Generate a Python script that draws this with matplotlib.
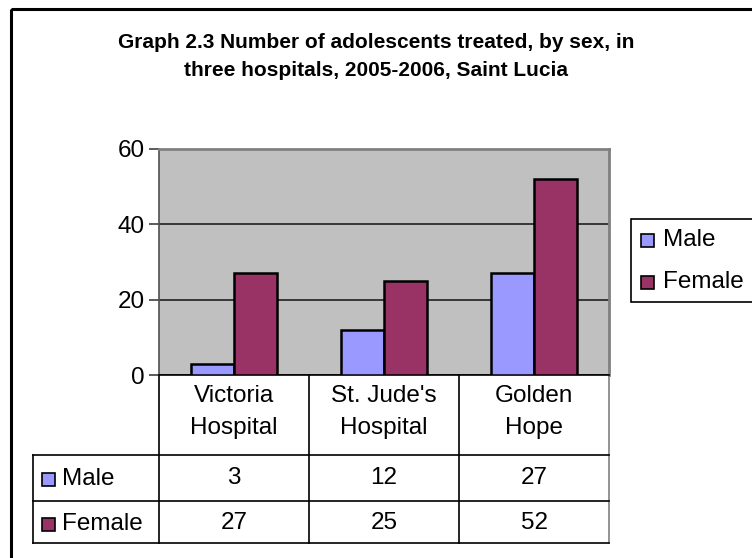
import matplotlib
matplotlib.use("Agg")
import matplotlib.pyplot as plt
from matplotlib import font_manager
from matplotlib.patches import Rectangle
from matplotlib.transforms import blended_transform_factory

# data
hospitals = ["Victoria\nHospital", "St. Jude's\nHospital", "Golden\nHope"]
series = ["Male", "Female"]
male = [3, 12, 27]
female = [27, 25, 52]
colors = ["#9999FF", "#993366"]
yticks = [0, 20, 40, 60]

W, H = 752, 558
FS = 17.5
plt.rcParams["font.family"] = ["Liberation Sans", "DejaVu Sans"]

# title in a narrow face when there is one
names = {f.name for f in font_manager.fontManager.ttflist}
if "Liberation Sans Narrow" in names:
    title_font, title_fs = ["Liberation Sans Narrow", "Liberation Sans"], 18.5
else:
    title_font, title_fs = ["Liberation Sans", "DejaVu Sans"], 15

fig = plt.figure(figsize=(W / 100, H / 100), dpi=100)

# overlay in pixel coords for frame, title, table and legend
lay = fig.add_axes([0, 0, 1, 1])
lay.set_xlim(0, W)
lay.set_ylim(H, 0)
lay.axis("off")

ax = fig.add_axes([159 / W, 1 - 375 / H, 450 / W, 226 / H])

# bars
bw = 1 / 3.5
x = list(range(len(hospitals)))
ax.bar([i - bw / 2 for i in x], male, bw, color=colors[0], edgecolor="black", lw=1.8, zorder=3)
ax.bar([i + bw / 2 for i in x], female, bw, color=colors[1], edgecolor="black", lw=1.8, zorder=3)

ax.set_facecolor("#C0C0C0")
ax.set_xlim(-0.5, 2.5)
ax.set_ylim(0, 60)
ax.set_yticks(yticks)
ax.set_xticks([])
ax.grid(axis="y", color="#202020", lw=1.2, zorder=1)
ax.tick_params(axis="y", labelsize=FS, length=7, width=1.2, pad=3, color="#404040")
for s in ["top", "right"]:
    ax.spines[s].set_color("#808080")
    ax.spines[s].set_linewidth(2)
ax.spines["left"].set_color("#505050")
ax.spines["left"].set_linewidth(1.2)
ax.spines["bottom"].set_color("black")
ax.spines["bottom"].set_linewidth(1.2)

# outer frame
lay.add_patch(Rectangle((11, 9), 900, 700, fill=False, edgecolor="black", lw=2.2))

# title
lay.text(376, 43, "Graph 2.3 Number of adolescents treated, by sex, in",
         ha="center", va="center", fontsize=title_fs, fontweight="bold", family=title_font)
lay.text(376, 70, "three hospitals, 2005-2006, Saint Lucia",
         ha="center", va="center", fontsize=title_fs, fontweight="bold", family=title_font)

# data table under the axis
tr = blended_transform_factory(ax.transData, lay.transData)
for b in [-0.5, 0.5, 1.5, 2.5]:
    c = "#808080" if b == 2.5 else "black"
    lay.plot([b, b], [375, 543], color=c, lw=1.2, transform=tr, clip_on=False)
for yy in [455, 501, 543]:
    lay.plot([33, 609], [yy, yy], color="black", lw=1.2)
lay.plot([33, 33], [455, 543], color="black", lw=1.2)

for i, name in enumerate(hospitals):
    lay.text(i, 412, name, transform=tr, ha="center", va="center",
             fontsize=FS, linespacing=1.58)
    lay.text(i, 478, str(male[i]), transform=tr, ha="center", va="center", fontsize=FS)
    lay.text(i, 523, str(female[i]), transform=tr, ha="center", va="center", fontsize=FS)

for yy, lab, col in zip([479, 524], series, colors):
    lay.add_patch(Rectangle((42, yy - 6), 13, 13, facecolor=col, edgecolor="black", lw=1.2))
    lay.text(62, yy, lab, ha="left", va="center", fontsize=FS)

# legend
lay.add_patch(Rectangle((631, 219), 200, 83, facecolor="white", edgecolor="black", lw=1.2))
for yy, lab, col in zip([240, 282], series, colors):
    lay.add_patch(Rectangle((641, yy - 6), 13, 13, facecolor=col, edgecolor="black", lw=1.2))
    lay.text(663, yy, lab, ha="left", va="center", fontsize=FS)

fig.savefig("out.png", dpi=100)
